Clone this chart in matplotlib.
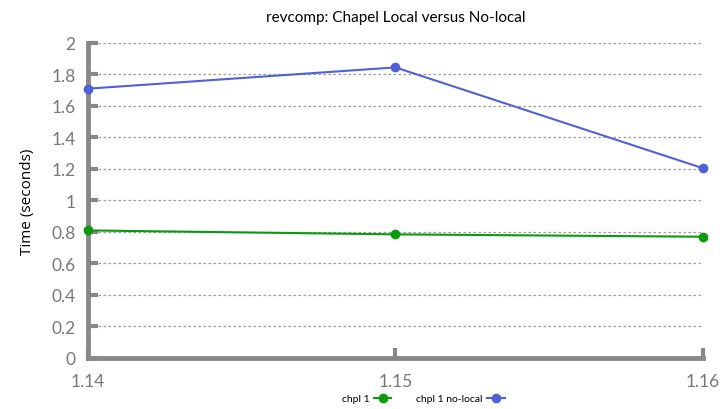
import matplotlib
matplotlib.use("Agg")
import matplotlib.pyplot as plt

versions = ["1.14", "1.15", "1.16"]
local_times = [0.81, 0.785, 0.77]
nolocal_times = [1.71, 1.845, 1.205]
yticks = [0, 0.2, 0.4, 0.6, 0.8, 1, 1.2, 1.4, 1.6, 1.8, 2]
ytick_labels = ["0", "0.2", "0.4", "0.6", "0.8", "1", "1.2", "1.4", "1.6", "1.8", "2"]

plt.rcParams['font.family'] = ['Lato', 'DejaVu Sans']
axis_grey = "#888888"

fig = plt.figure(figsize=(7.2, 4.1), dpi=100)
ax = fig.add_axes([0.1222, 0.1244, 0.8540, 0.7683])

x = list(range(len(versions)))
ax.plot(x, local_times, color="#0a9b0a", marker="o", markersize=6, lw=1.5,
        label="chpl 1", clip_on=False, zorder=4)
ax.plot(x, nolocal_times, color="#5061d6", marker="o", markersize=6, lw=1.5,
        label="chpl 1 no-local", clip_on=False, zorder=4)

ax.set_xlim(0, 2)
ax.set_ylim(0, 2)
ax.set_xticks(x)
ax.set_xticklabels(versions)
ax.set_yticks(yticks)
ax.set_yticklabels(ytick_labels)
ax.yaxis.grid(True, color="#999999", linestyle=(0, (2, 2)), lw=0.9)
ax.set_axisbelow(True)

for s in ["top", "right"]:
    ax.spines[s].set_visible(False)
for s in ["left", "bottom"]:
    ax.spines[s].set_color(axis_grey)
    ax.spines[s].set_linewidth(3.5)
    ax.spines[s].set_capstyle("projecting")

ax.tick_params(axis="y", direction="in", length=7, width=3, color=axis_grey,
               labelcolor="#777777", labelsize=12.5, pad=9)
ax.tick_params(axis="x", direction="in", length=7, width=3, color=axis_grey,
               labelcolor="#777777", labelsize=12.5, pad=11)

ax.set_ylabel("Time (seconds)", fontsize=11, family=["Open Sans", "DejaVu Sans"],
              labelpad=12)
ax.set_title("revcomp: Chapel Local versus No-local", fontsize=11, pad=16)

fig.legend(*ax.get_legend_handles_labels(), loc="center",
           bbox_to_anchor=(0.588, 0.025), ncol=2, frameon=False,
           markerfirst=False, fontsize=7.5, handlelength=1.7, columnspacing=2.4,
           handletextpad=0.4, borderpad=0.1)

fig.savefig("out.png", dpi=100)
